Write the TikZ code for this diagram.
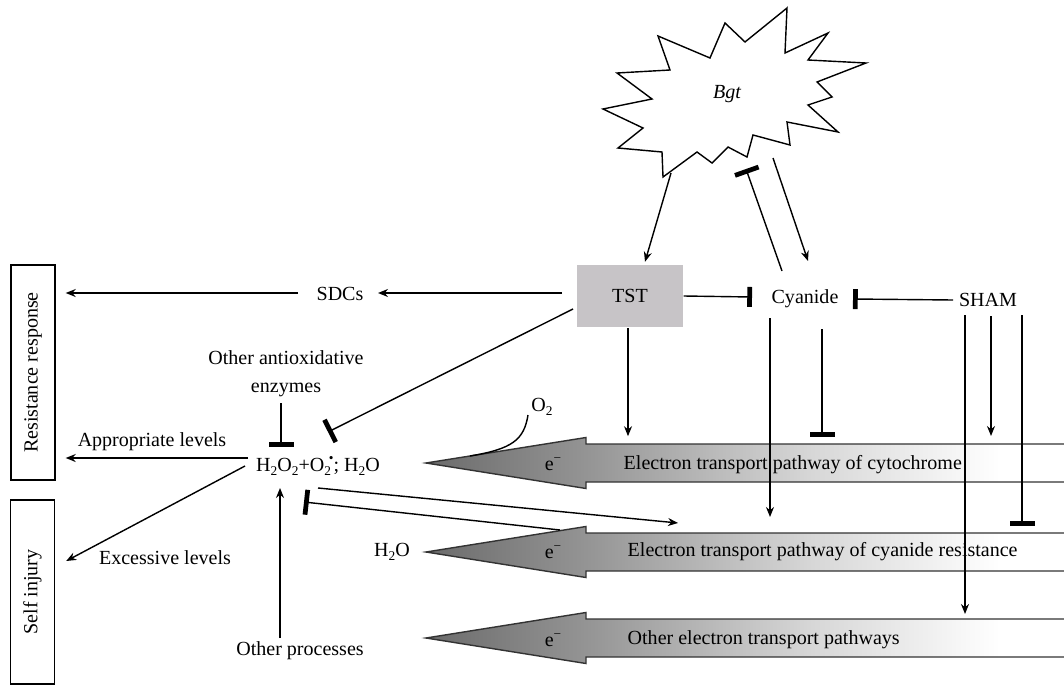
\documentclass[tikz,border=0pt]{standalone}
\usepackage{fontspec}
\setmainfont{Liberation Serif}
\usetikzlibrary{arrows.meta,calc}
\definecolor{tstgray}{RGB}{199,196,199}
% path runs from 25bp (tip) to 75bp (right edge)
\pgfdeclarehorizontalshading{etshade}{100bp}{color(0bp)=(black!58); color(25bp)=(black!58); color(37.5bp)=(black!42); color(55bp)=(black!16); color(70bp)=(white); color(100bp)=(white)}
% big electron-transport arrow, centre line at y = #1
\def\etarrow(#1){\shadedraw[etbody] (1064,{#1-19}) -- (586,{#1-19}) -- (586,{#1-25.5}) -- (426,#1) -- (586,{#1+25.5}) -- (586,{#1+19}) -- (1064,{#1+19});}
\newcommand{\chsub}[1]{\raisebox{-0.45ex}{\fontsize{7.6}{8}\selectfont #1}}
\newcommand{\chsup}[1]{\raisebox{0.9ex}{\fontsize{7.6}{8}\selectfont #1}}

\begin{document}
\begin{tikzpicture}[x=0.02cm, y=-0.02cm, line width=0.8pt,
  font=\fontsize{11.4}{13.5}\selectfont,
  lbl/.style={inner sep=0pt},
  act/.style={-{Stealth[length=2mm,width=1.6mm]}},
  inh/.style={-{Bar[width=0.5cm,line width=2.7pt]}},
  inhv/.style={-{Bar[width=0.4cm,line width=2.7pt]}},
  etbody/.style={shading=etshade, draw=black!80},
  tstbox/.style={fill=tstgray, minimum width=2.12cm, minimum height=1.26cm, inner sep=0pt},
  sidebox/.style={draw, rotate=90, minimum height=0.88cm, inner sep=0pt}]
  \useasboundingbox (0,0) rectangle (1064,686);

  %%%%% Bgt star %%%%%
  \draw (603,109) -- (652,99) -- (617,73) -- (670,70) -- (658,36) -- (710,58) -- (725,23) -- (745,42)
    -- (787,8) -- (785,53) -- (828,33) -- (808,60) -- (866,63) -- (817,82) -- (832,97) -- (808,105)
    -- (838,132) -- (787,122) -- (790,145) -- (753,135) -- (747,157) -- (728,147) -- (712,163)
    -- (697,152) -- (663,177) -- (662,152) -- (618,148) -- (643,128) -- cycle;
  \node[lbl] (bgt) at (727,94) {\itshape Bgt};
  \coordinate (bgtA) at (671,173);
  \coordinate (bgtB) at (746,169);
  \coordinate (bgtC) at (773,158);

  %%%%% electron transport pathways %%%%%
  \etarrow(463)
  \etarrow(552)
  \etarrow(638)
  \coordinate (cres) at (560,530);
  \node[lbl] (e1) at (553,464) {e\chsup{−}};
  \node[lbl] (e2) at (553,552) {e\chsup{−}};
  \node[lbl] (e3) at (553,640) {e\chsup{−}};
  \node[lbl, anchor=west] (et1) at (623,465) {Electron transport pathway of cytochrome};
  \node[lbl, anchor=west] (et2) at (627,552) {Electron transport pathway of cyanide resistance};
  \node[lbl, anchor=west] (et3) at (627,640) {Other electron transport pathways};

  %%%%% nodes %%%%%
  \node[tstbox] (tst) at (630,296) {TST};
  \node[lbl] (cyan) at (805,299) {Cyanide};
  \node[lbl] (sham) at (988,300) {SHAM};
  \node[lbl] (sdc) at (340,294) {SDCs};
  \node[lbl, align=center, font=\fontsize{11.4}{16}\selectfont] (antiox) at (286,374) {Other antioxidative\\enzymes};
  \node[lbl] (ros) at (318,466) {H\chsub{2}O\chsub{2}+O\chsub{2}\kern-0.1em\chsup{\textbullet}; H\chsub{2}O};
  \node[lbl] (apl) at (152,442) {Appropriate levels};
  \node[lbl] (exl) at (165,558) {Excessive levels};
  \node[lbl] (othp) at (300,651) {Other processes};
  \node[lbl] (water) at (392,552) {H\chsub{2}O};
  \node[lbl] (oxy) at (542,407) {O\chsub{2}};
  \node[sidebox, minimum width=4.3cm] (resist) at (33,372.5) {Resistance response};
  \node[sidebox, minimum width=3.68cm] (injury) at (32.5,592) {Self injury};

  %%%%% connectors %%%%%
  \draw[act] (bgtA) -- ($(tst.north)+(15,-2)$);
  \draw[inh] ($(cyan)+(-23,-28)$) -- (bgtB);
  \draw[act] (bgtC) -- ($(cyan)+(3,-38)$);
  \draw[inhv] (tst.east) -- ($(cyan)+(-53,-2)$);
  \draw[inhv] ($(sham)+(-35,0)$) -- ($(cyan)+(48,0)$);
  \draw[act] ($(tst)+(-68,-3)$) -- ($(sdc)+(38,-1)$);
  \draw[act] ($(sdc)+(-42,-1)$) -- ($(resist.south |- sdc)+(10,-1)$);
  \draw[inh] ($(tst)+(-57,13)$) -- ($(ros)+(10,-34)$);
  \draw[inh] ($(antiox)+(-5,29)$) -- ($(ros)+(-37,-19)$);
  \draw[act] ($(ros)+(-70,-8)$) -- ($(resist.south |- ros)+(10,-8)$);
  \draw[act] ($(ros)+(-73,0)$) -- ($(injury.south)+(11,-31)$);
  \draw[act] ($(othp)+(-20,-13)$) -- ($(ros)+(-38,22)$);
  \draw[inh] (cres) -- ($(ros)+(-14,36)$);
  \draw[act] ($(ros)+(0,22)$) -- ($(ros)+(360,57)$);
  \draw ($(oxy)+(-14,8)$) .. controls ($(oxy)+(-18,33)$) and ($(oxy)+(-30,42)$) .. ($(oxy)+(-72,49)$);

  \draw[act] ($(tst.south)+(-2,0)$) -- ($(tst.south)+(-2,108)$);
  \draw[act] ($(cyan)+(-35,19)$) -- ($(cyan)+(-35,218)$);
  \draw[inh] ($(cyan)+(17,30)$) -- ($(cyan)+(17,138)$);
  \draw[act] ($(sham)+(-23,15)$) -- ($(sham)+(-23,314)$);
  \draw[act] ($(sham)+(3,16)$) -- ($(sham)+(3,136)$);
  \draw[inh] ($(sham)+(34,15)$) -- ($(sham)+(34,226)$);
\end{tikzpicture}
\end{document}
